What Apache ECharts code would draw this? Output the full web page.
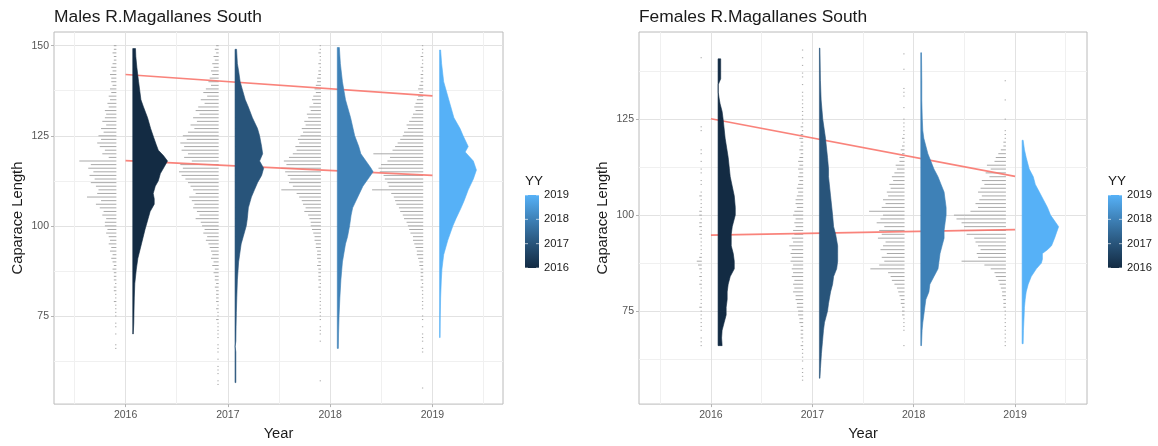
<!DOCTYPE html>
<html>
<head>
<meta charset="utf-8">
<script src="https://cdn.jsdelivr.net/npm/echarts@6/dist/echarts.min.js"></script>
<style>
  html, body { margin: 0; padding: 0; background: #ffffff; }
  #chart { width: 1158px; height: 446px; }
</style>
</head>
<body>
<div id="chart"></div>
<script>
// ---------- data ----------
const years = [2016, 2017, 2018, 2019];
const yearTicks = [2016, 2017, 2018, 2019];
const yearMinorTicks = [2015.5, 2016.5, 2017.5, 2018.5, 2019.5];
const maleTicksY = [75, 100, 125, 150];
const femaleTicksY = [75, 100, 125];
const lengthMinorTicks = [62.5, 87.5, 112.5, 137.5];
const legendTicks = [2016, 2017, 2018, 2019];

// dot counts per 1 mm carapace-length class, listed from the top class downward
const maleTopLength = 150;   // classes 150 .. 55
const maleDots2016 = [
  2,2,3,2,2, 3,4,3,5,4,   4,3,5,4,6, 5,7,6,9,8,
  9,11,8,12,10, 14,12,15,13,9,   11,6,29,20,22, 18,21,17,20,16,
  14,15,23,12,16, 13,10,11,8,9,   9,7,8,6,5, 6,4,5,3,4,
  3,2,3,2,2, 2,1,2,2,1,   1,2,1,1,1, 1,0,1,1,0,
  1,0,0,1,1, 0,0,0,0,0,   0,0,0,0,0,0
];
const maleDots2017 = [
  2,3,2,4,3, 5,4,6,5,7,   8,6,10,12,9, 14,11,16,18,15,
  20,17,22,19,24, 28,25,30,27,29,   24,27,21,30,28, 31,29,26,24,22,
  20,18,23,21,19, 20,17,15,18,14,   13,11,12,9,10, 8,7,6,5,6,
  4,5,3,4,3, 3,2,3,2,2,   2,2,1,2,1, 1,2,1,1,1,
  1,1,0,1,1, 1,0,1,0,1,   1,1,0,1,1,0
];
const maleDots2018 = [
  1,1,2,1,1, 2,1,2,2,3,   3,4,5,4,6, 7,6,9,8,11,
  10,13,12,15,14, 16,18,17,20,19,   22,25,29,27,31, 28,26,24,25,22,
  31,19,17,15,14, 12,13,10,9,8,   8,7,6,5,5, 4,4,3,3,3,
  2,3,2,2,2, 2,1,2,1,1,   1,1,1,1,1, 1,1,0,1,1,
  1,0,1,0,0, 0,0,0,0,0,   0,0,0,1,0,0
];
const maleDots2019 = [
  1,1,1,2,1, 1,2,1,2,2,   2,3,4,3,4, 5,6,7,6,8,
  9,11,13,12,15, 16,18,20,22,24,   39,26,28,33,35, 34,31,30,28,27,
  40,25,23,22,21, 19,18,16,15,13,   12,11,10,8,8, 7,6,5,5,4,
  3,3,2,2,2, 2,1,2,1,1,   1,1,1,1,0, 1,1,0,1,0,
  1,1,1,0,1, 1,0,0,0,0,   0,0,0,0,0,1
];

const femaleTopLength = 143; // classes 143 .. 57
const femaleDots2016 = [
  0,0,1,0,0, 0,0,0,0,0,   0,0,0,0,0, 0,0,0,0,0,
  1,1,0,0,0, 0,1,1,0,1,   0,1,1,0,1, 1,0,1,2,1,
  1,1,2,2,1, 2,2,1,2,1,   1,1,1,1,2, 4,3,2,1,2,
  1,2,1,1,1, 1,1,2,1,1,   1,1,1,1,0, 1,1,1,0,0,
  0,0,0,0,0,0,0
];
const femaleDots2017 = [
  1,0,1,0,1, 0,1,1,0,1,   0,1,1,1,1, 1,1,1,1,1,
  2,1,2,3,2, 2,3,2,3,4,   3,4,3,4,3, 4,5,4,5,6,
  6,5,7,8,6, 7,6,8,7,9,   8,11,9,10,9, 10,8,9,8,9,
  7,8,7,8,6, 6,5,5,4,4,   3,3,2,2,2, 2,1,2,1,1,
  1,1,0,1,1,1,1
];
const femaleDots2018 = [
  0,1,0,0,0, 1,0,0,0,0,   1,1,1,0,0, 1,0,0,1,1,
  1,1,1,2,1, 2,3,2,4,4,   7,6,8,10,9, 12,11,14,13,17,
  15,18,28,17,19, 22,16,20,18,21,   15,17,19,14,18, 16,20,27,13,11,
  10,8,6,5,4, 3,3,2,2,2,   1,1,1,1,0, 0,0,1,0,0,
  0,0,0,0,0,0,0
];
const femaleDots2019 = [
  0,0,0,0,0, 0,0,0,1,0,   0,0,0,1,0, 0,0,0,1,0,
  0,1,1,1,2, 2,4,6,8,9,   15,12,16,13,19, 17,20,22,19,21,
  24,22,28,41,39, 35,33,36,31,25,   24,22,20,23,22, 35,17,12,9,8,
  6,5,4,3,3, 2,2,2,1,1,   1,1,1,1,1, 1,1,1,0,0,
  0,0,0,0,0,0,0
];

// half-violin density estimates: [carapace length, density]
const maleDens2016 = [[70,0.0005],[73,0.001],[76,0.0012],[80,0.0015],[84,0.002],[88,0.0035],[91,0.005],[95,0.0085],[99,0.012],[102,0.015],[104,0.017],[106,0.021],[107.5,0.021],[109,0.020],[111,0.022],[112.5,0.025],[114.5,0.027],[116.5,0.031],[118,0.034],[119.5,0.030],[121,0.025],[122.5,0.023],[124.5,0.0205],[127,0.0175],[130,0.0145],[133,0.0105],[135,0.008],[140,0.0057],[144,0.004],[147,0.003],[149.2,0.0027]];
const maleDens2017 = [[56.5,0.0008],[60,0.0008],[65,0.0008],[66.5,0.0001],[68,0.0008],[72,0.001],[76,0.0013],[80,0.0017],[85,0.0023],[90,0.0035],[93,0.005],[95,0.006],[97,0.008],[100,0.011],[102,0.012],[105,0.013],[108,0.016],[110,0.019],[112,0.022],[114,0.026],[116,0.028],[118,0.024],[120,0.027],[122,0.026],[125,0.024],[127,0.022],[130,0.017],[133,0.013],[135,0.010],[138,0.007],[140,0.005],[143,0.0035],[145,0.0023],[149,0.0015]];
const maleDens2018 = [[66,0.001],[70,0.0012],[75,0.0017],[80,0.0025],[85,0.0035],[90,0.005],[95,0.008],[97,0.010],[100,0.012],[103,0.0135],[105,0.015],[108,0.020],[111,0.025],[113,0.030],[115,0.035],[116,0.033],[118,0.028],[120,0.023],[122,0.021],[125,0.017],[130,0.013],[135,0.008],[140,0.005],[145,0.003],[149.5,0.002]];
const maleDens2019 = [[69,0.0005],[75,0.0007],[80,0.001],[85,0.0017],[88,0.0023],[92,0.004],[96,0.008],[100,0.013],[102,0.016],[105,0.021],[107,0.024],[110,0.028],[113,0.033],[115.5,0.036],[118,0.033],[120.5,0.025],[122,0.028],[125,0.023],[127,0.020],[130,0.014],[135,0.009],[140,0.004],[145,0.002],[148.8,0.001]];

const femaleDens2016 = [[66,0.004],[68,0.0035],[70,0.004],[72,0.006],[74,0.008],[76,0.008],[78,0.009],[80,0.009],[82,0.010],[84,0.012],[86,0.016],[88,0.016],[90,0.015],[92,0.013],[95,0.013],[97,0.014],[100,0.017],[102,0.017],[105,0.016],[110,0.012],[115,0.010],[120,0.007],[125,0.005],[127,0.004],[129,0.002],[130.5,0.001],[132,0.0002],[134,0.0002],[135.5,0.0026],[140.7,0.0026]];
const femaleDens2017 = [[57.5,0.0005],[60,0.001],[64,0.002],[67,0.003],[70,0.004],[72,0.005],[75,0.008],[77,0.009],[80,0.011],[82,0.013],[84,0.014],[86,0.017],[88,0.018],[90,0.018],[92,0.018],[95,0.016],[97,0.014],[100,0.013],[105,0.011],[110,0.009],[112,0.009],[115,0.008],[120,0.006],[125,0.0033],[130,0.0017],[135,0.001],[143.5,0.0005]];
const femaleDens2018 = [[66,0.0007],[70,0.0013],[72,0.002],[74,0.003],[76,0.004],[78,0.005],[80,0.008],[82,0.009],[84,0.013],[86,0.017],[88,0.018],[90,0.019],[92,0.021],[94,0.023],[96,0.023],[98,0.024],[100,0.025],[102,0.025],[104,0.024],[106,0.023],[108,0.020],[110,0.017],[112,0.013],[114,0.010],[116,0.007],[118,0.005],[120,0.003],[122,0.002],[125,0.0015],[130,0.001],[135,0.001],[142.3,0.0007]];
const femaleDens2019 = [[66.5,0.001],[70,0.0013],[74,0.002],[76,0.0023],[78,0.003],[80,0.004],[82,0.006],[84,0.009],[86,0.014],[87.5,0.019],[88.5,0.020],[90,0.020],[91,0.025],[92,0.029],[94,0.032],[95.5,0.034],[97,0.036],[98.5,0.032],[100,0.028],[102,0.025],[104,0.021],[106,0.017],[108,0.013],[110,0.011],[112,0.007],[115,0.004],[117,0.0023],[119.5,0.001]];

// fitted trend lines: [year, carapace length]
const maleUpperTrend = [[2016, 142.0], [2019, 136.1]];
const maleLowerTrend = [[2016, 118.1], [2019, 114.0]];
const femaleUpperTrend = [[2016, 125.1], [2019, 110.1]];
const femaleLowerTrend = [[2016, 94.8], [2019, 96.2]];

// ---------- drawing ----------
const FONT = '"Liberation Sans", Arial, Helvetica, sans-serif';
const yearColors = ['#132B43', '#28547A', '#3E81B7', '#56B1F7'];
const VIOLIN_OFFSET = 0.07;   // violin baseline, right of the year
const VIOLIN_SCALE = 10;      // years of width per unit of density
const DOT_EDGE = -0.09;       // dot rows end just left of the year
const DOT_STEP = 0.0125;      // width of one dot, in years

const panels = [
  {
    title: 'Males R.Magallanes South',
    grid: { left: 54, top: 32, width: 449, height: 380 },
    xRange: [2015.30, 2019.69], yRange: [50.54, 153.8],
    yTicks: maleTicksY, top: maleTopLength,
    dots: [maleDots2016, maleDots2017, maleDots2018, maleDots2019],
    dens: [maleDens2016, maleDens2017, maleDens2018, maleDens2019],
    trends: [maleUpperTrend, maleLowerTrend],
    legendX: 525
  },
  {
    title: 'Females R.Magallanes South',
    grid: { left: 639, top: 32, width: 448, height: 380 },
    xRange: [2015.29, 2019.71], yRange: [50.77, 147.7],
    yTicks: femaleTicksY, top: femaleTopLength,
    dots: [femaleDots2016, femaleDots2017, femaleDots2018, femaleDots2019],
    dens: [femaleDens2016, femaleDens2017, femaleDens2018, femaleDens2019],
    trends: [femaleUpperTrend, femaleLowerTrend],
    legendX: 1108
  }
];

const grids = [], xAxes = [], yAxes = [], series = [], titles = [], graphics = [];

panels.forEach((p, pi) => {
  grids.push(Object.assign({ show: true, borderColor: '#bababa', borderWidth: 1, backgroundColor: '#ffffff' }, p.grid));
  titles.push({
    text: p.title, left: p.grid.left, top: 9, padding: 0,
    textStyle: { fontFamily: FONT, fontSize: 17.4, fontWeight: 'normal', color: '#1a1a1a' }
  });

  // major and minor x axes
  xAxes.push({
    type: 'value', gridIndex: pi, min: p.xRange[0], max: p.xRange[1],
    axisLine: { show: false },
    axisTick: { show: true, customValues: yearTicks, length: 3, lineStyle: { color: '#b3b3b3' } },
    axisLabel: { customValues: yearTicks, formatter: v => String(v), color: '#555555', fontSize: 10.5, fontFamily: FONT, margin: 6 },
    splitLine: { show: true, lineStyle: { color: '#e2e2e2', width: 1 } },
    name: 'Year', nameLocation: 'middle', nameGap: 17,
    nameTextStyle: { fontFamily: FONT, fontSize: 14.7, color: '#1a1a1a', verticalAlign: 'top' }
  });
  xAxes.push({
    type: 'value', gridIndex: pi, min: p.xRange[0], max: p.xRange[1],
    axisLine: { show: false },
    axisTick: { show: false, customValues: yearMinorTicks },
    axisLabel: { show: false, customValues: yearMinorTicks },
    splitLine: { show: true, lineStyle: { color: '#f0f0f0', width: 1 } }
  });
  // major and minor y axes
  yAxes.push({
    type: 'value', gridIndex: pi, min: p.yRange[0], max: p.yRange[1],
    axisLine: { show: false },
    axisTick: { show: true, customValues: p.yTicks, length: 3, lineStyle: { color: '#b3b3b3' } },
    axisLabel: { customValues: p.yTicks, formatter: v => String(v), color: '#555555', fontSize: 10.5, fontFamily: FONT, margin: 5 },
    splitLine: { show: true, lineStyle: { color: '#e2e2e2', width: 1 } },
    name: 'Caparace Length', nameLocation: 'middle', nameGap: 29,
    nameTextStyle: { fontFamily: FONT, fontSize: 14.7, color: '#1a1a1a' }
  });
  yAxes.push({
    type: 'value', gridIndex: pi, min: p.yRange[0], max: p.yRange[1],
    axisLine: { show: false },
    axisTick: { show: false, customValues: lengthMinorTicks },
    axisLabel: { show: false, customValues: lengthMinorTicks },
    splitLine: { show: true, lineStyle: { color: '#f0f0f0', width: 1 } }
  });

  const xi = pi * 2, yi = pi * 2;

  // dot rows (counts per length class)
  const dotData = [];
  p.dots.forEach((counts, i) => counts.forEach((n, k) => {
    if (n > 0) dotData.push([years[i], p.top - k, n]);
  }));
  series.push({
    type: 'custom', xAxisIndex: xi, yAxisIndex: yi, z: 2, silent: true,
    data: dotData, encode: { x: 0, y: 1 },
    renderItem: (params, api) => {
      const yr = api.value(0), len = api.value(1), n = api.value(2);
      const a = api.coord([yr + DOT_EDGE - n * DOT_STEP, len]);
      const b = api.coord([yr + DOT_EDGE, len]);
      return {
        type: 'line',
        shape: { x1: a[0], y1: a[1], x2: b[0], y2: b[1] },
        style: { stroke: '#9a9a9a', lineWidth: 1, opacity: 0.85 }
      };
    }
  });

  // trend lines
  p.trends.forEach(t => series.push({
    type: 'line', xAxisIndex: xi, yAxisIndex: yi, z: 3, silent: true,
    data: t, symbol: 'none',
    lineStyle: { color: '#F8766D', width: 1.7, opacity: 0.9 }
  }));

  // half violins
  const dens = p.dens;
  series.push({
    type: 'custom', xAxisIndex: xi, yAxisIndex: yi, z: 4, silent: true,
    data: years.map((y, i) => [y, 100, i]), encode: { x: 0, y: 1 },
    renderItem: (params, api) => {
      const yr = api.value(0), idx = api.value(2);
      const d = dens[idx];
      const base = yr + VIOLIN_OFFSET;
      const pts = [api.coord([base, d[0][0]])];
      d.forEach(([len, v]) => pts.push(api.coord([base + v * VIOLIN_SCALE, len])));
      pts.push(api.coord([base, d[d.length - 1][0]]));
      return {
        type: 'polygon', shape: { points: pts },
        style: { fill: yearColors[idx], stroke: yearColors[idx], lineWidth: 0.6 }
      };
    }
  });

  // colour bar legend
  const lx = p.legendX, barTop = 195, barH = 73, barW = 14;
  graphics.push({
    type: 'text', left: lx, top: 174,
    style: { text: 'YY', font: '13.5px ' + FONT, fill: '#1a1a1a' }
  });
  graphics.push({
    type: 'rect', shape: { x: lx, y: barTop, width: barW, height: barH },
    style: {
      fill: new echarts.graphic.LinearGradient(0, 1, 0, 0, [
        { offset: 0, color: yearColors[0] },
        { offset: 1 / 3, color: yearColors[1] },
        { offset: 2 / 3, color: yearColors[2] },
        { offset: 1, color: yearColors[3] }
      ])
    }
  });
  const lo = legendTicks[0], hi = legendTicks[legendTicks.length - 1];
  legendTicks.forEach(t => {
    const ty = barTop + barH * (hi - t) / (hi - lo);
    graphics.push({ type: 'line', shape: { x1: lx, y1: ty, x2: lx + 3, y2: ty }, style: { stroke: '#ffffff', lineWidth: 0.8, opacity: 0.8 } });
    graphics.push({ type: 'line', shape: { x1: lx + barW - 3, y1: ty, x2: lx + barW, y2: ty }, style: { stroke: '#ffffff', lineWidth: 0.8, opacity: 0.8 } });
    graphics.push({
      type: 'text', x: lx + barW + 5, y: ty,
      style: { text: String(t), font: '11.2px ' + FONT, fill: '#1a1a1a', textVerticalAlign: 'middle' }
    });
  });
});

const chart = echarts.init(document.getElementById('chart'), null, { renderer: 'canvas' });
chart.setOption({
  animation: false,
  backgroundColor: '#ffffff',
  title: titles,
  grid: grids,
  xAxis: xAxes,
  yAxis: yAxes,
  series: series,
  graphic: { elements: graphics }
});
</script>
</body>
</html>
